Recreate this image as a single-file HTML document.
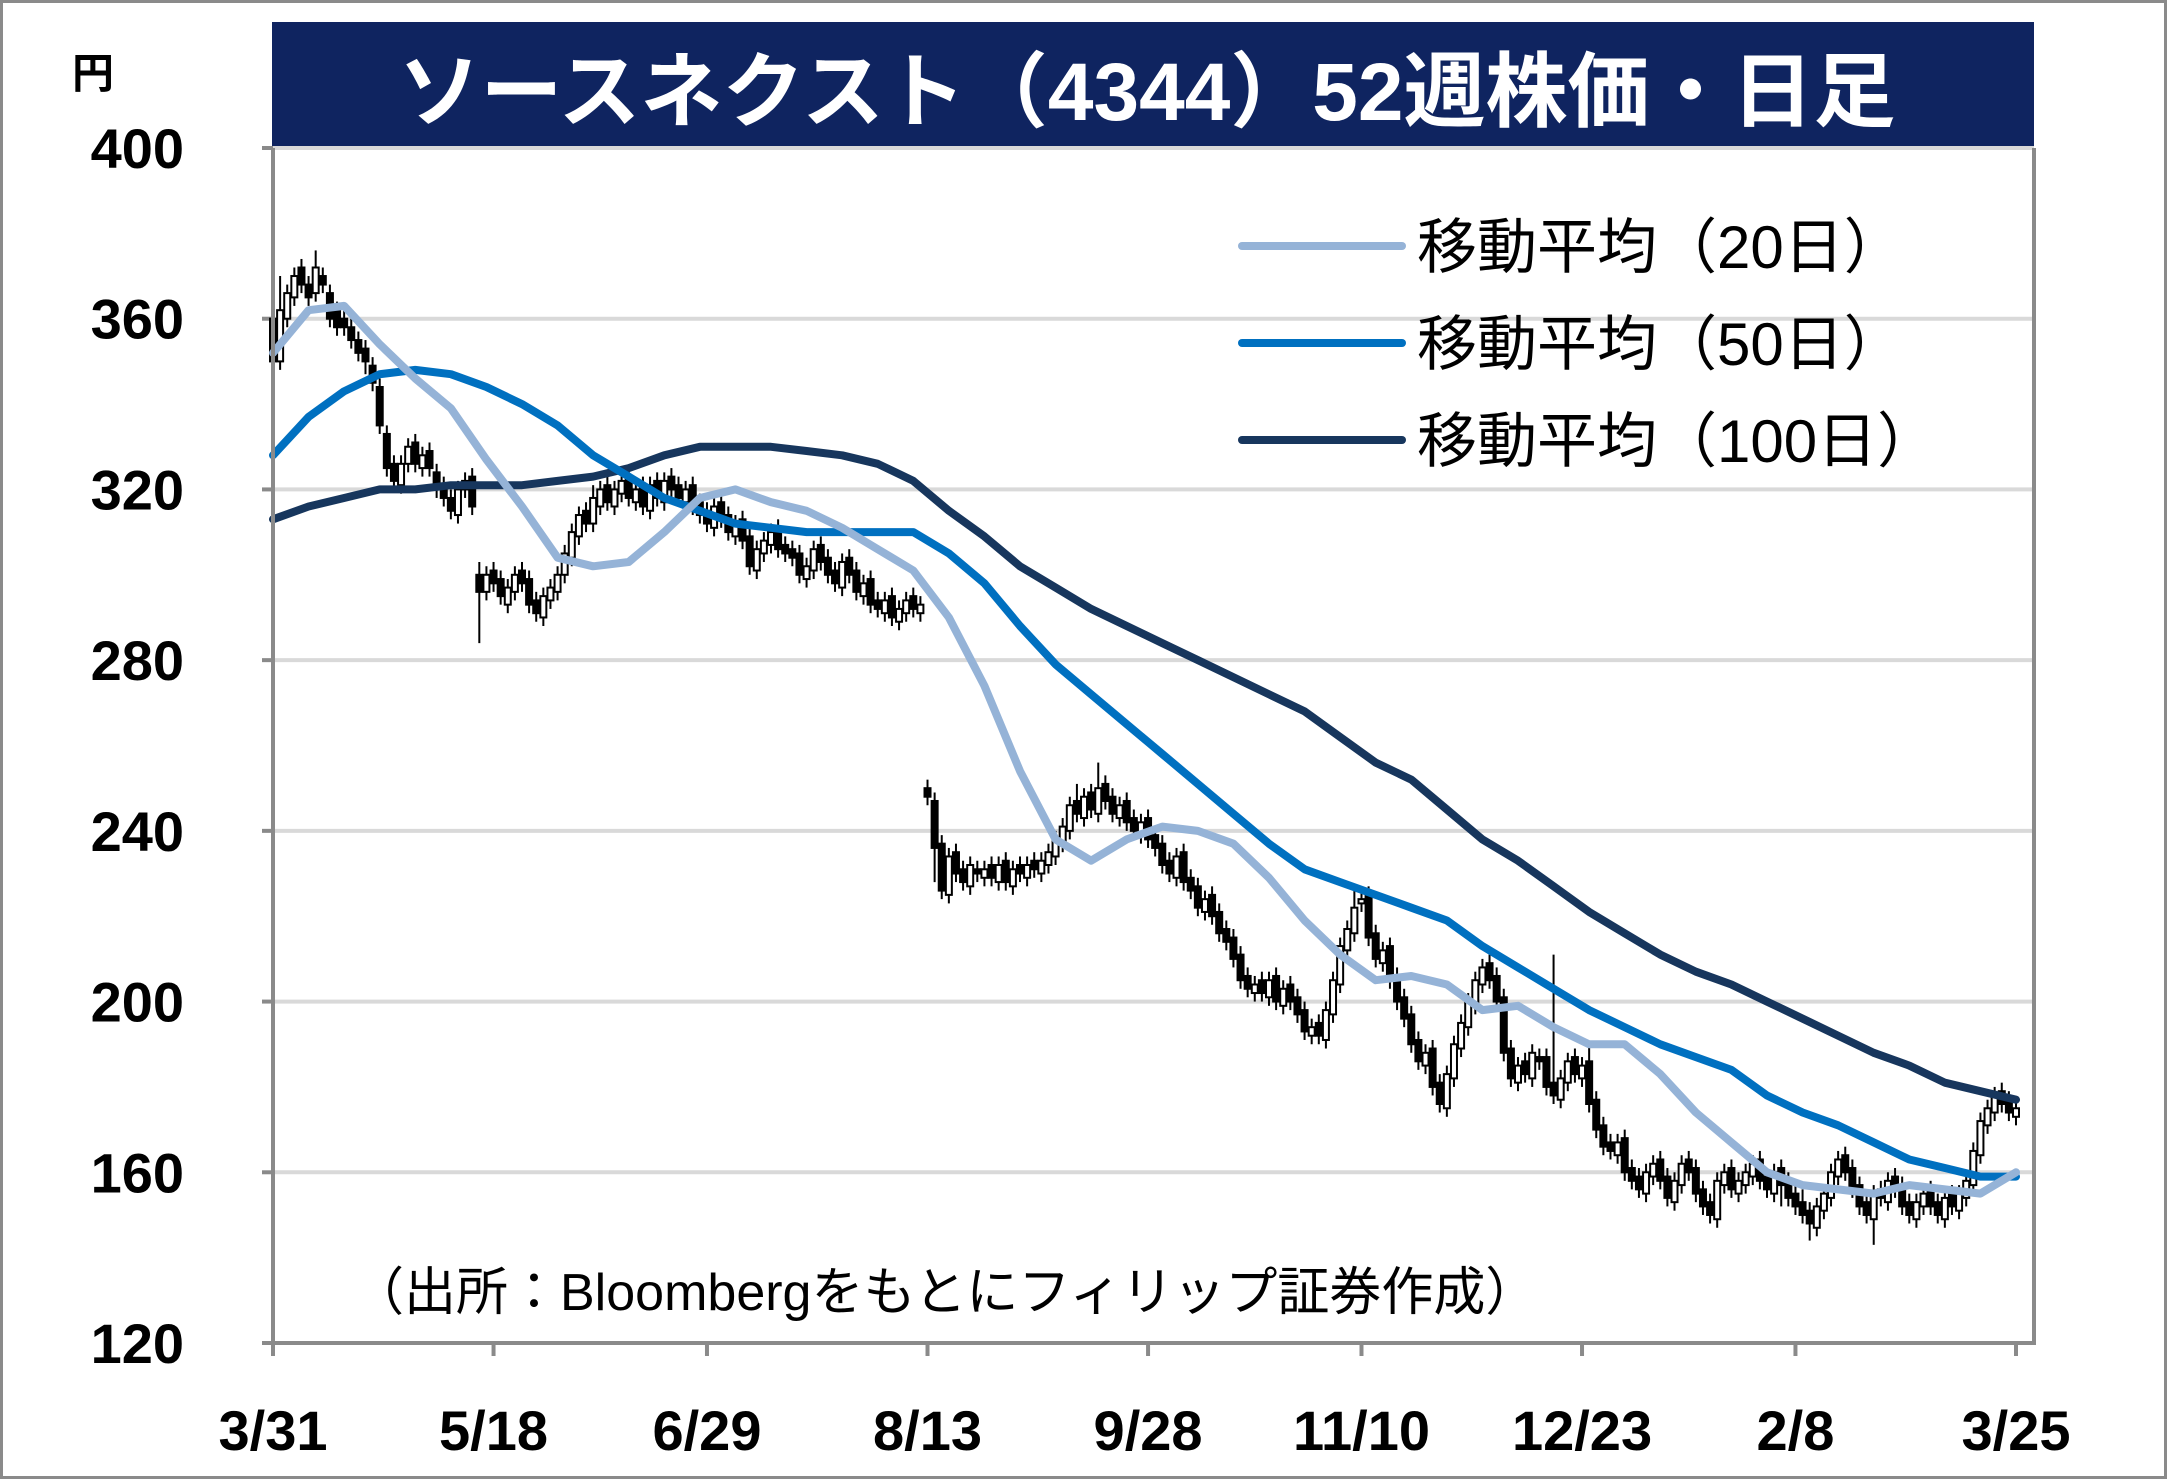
<!DOCTYPE html>
<html><head><meta charset="utf-8">
<style>
html,body{margin:0;padding:0;background:#fff;}
#wrap{position:relative;width:2167px;height:1479px;box-sizing:border-box;border:3px solid #8a8a8a;overflow:hidden;background:#fff;}
svg text{font-family:"Liberation Sans","Noto Sans CJK JP",sans-serif;}
</style></head>
<body>
<div id="wrap">
<svg id="chart" width="2161" height="1473" viewBox="3 3 2161 1473" xmlns="http://www.w3.org/2000/svg">
  <rect x="272" y="22" width="1762" height="126" fill="#0f2460"/>
  <text x="1147" y="120" text-anchor="middle" fill="#fff" font-size="82" font-weight="bold">ソースネクスト（4344）52週株価・日足</text>
  <text x="72" y="88" font-size="42" font-weight="bold" fill="#000">円</text>
  <g id="grid"></g>
  <g id="yticks"></g>
  <g id="xticks"></g>
  <g id="candles"></g>
  <g id="mas"></g>
  <line x1="273" y1="148" x2="273" y2="1345" stroke="#8a8a8a" stroke-width="4"/>
  <line x1="2034" y1="148" x2="2034" y2="1345" stroke="#8a8a8a" stroke-width="4"/>
  <line x1="271" y1="1343" x2="2036" y2="1343" stroke="#8a8a8a" stroke-width="4"/>
  <g>
    <g>
      <line x1="1242" y1="246" x2="1402" y2="246" stroke="#95b3d7" stroke-width="8" stroke-linecap="round"/>
      <text x="1417" y="268" font-size="60" fill="#000">移動平均（20日）</text>
    </g>
    <g>
      <line x1="1242" y1="343" x2="1402" y2="343" stroke="#0070c0" stroke-width="8" stroke-linecap="round"/>
      <text x="1417" y="365" font-size="60" fill="#000">移動平均（50日）</text>
    </g>
    <g>
      <line x1="1242" y1="440" x2="1402" y2="440" stroke="#17365d" stroke-width="8" stroke-linecap="round"/>
      <text x="1417" y="462" font-size="60" fill="#000">移動平均（100日）</text>
    </g>
  </g>
  <text x="352" y="1310" font-size="52" fill="#000">（出所：Bloombergをもとにフィリップ証券作成）</text>
</svg>
</div>
<script>
const yTicks = [120,160,200,240,280,320,360,400];
const xLabels = ["3/31","5/18","6/29","8/13","9/28","11/10","12/23","2/8","3/25"];
const xLabelDays = [0,31,61,92,123,153,184,214,245];
const closes = [350,362,366,370,368,365,372,368,360,358,
358,355,352,350,345,335,325,322,326,330,
326,328,325,320,318,315,320,322,316,296,
300,298,295,297,300,298,293,291,295,297,
300,305,310,314,312,318,320,317,320,322,
318,320,316,321,318,322,320,318,320,316,
314,312,316,313,310,312,308,302,306,308,
310,306,305,304,300,302,306,303,300,298,
303,300,296,298,293,292,294,290,292,294,
292,293,248,236,226,234,230,228,232,230,
231,229,232,228,231,230,232,231,233,235,
238,241,246,244,248,245,250,247,244,246,
242,240,242,238,236,232,230,234,228,226,
222,224,220,216,214,210,205,203,204,202,
205,200,203,200,197,193,194,192,198,205,
213,217,222,224,215,210,212,205,200,196,
190,186,188,180,176,183,190,195,200,205,
208,205,200,188,182,185,183,188,186,180,
178,182,186,183,185,176,170,166,165,167,
160,158,156,160,162,158,154,158,162,160,
155,152,150,158,160,156,158,160,162,158,
156,160,157,154,152,150,148,152,155,160,
163,160,156,152,150,155,154,158,156,152,
150,153,155,152,150,154,152,155,158,165,
172,175,178,176,174,175];
const opens = [360,350,360,365,372,368,366,370,366,362,
360,358,355,353,349,344,333,326,321,326,
331,325,329,324,321,318,314,320,323,300,
296,301,299,293,296,301,299,294,290,294,
296,300,304,309,315,312,316,321,316,319,
323,317,321,315,322,317,323,321,317,321,
317,315,311,317,314,309,313,309,301,305,
307,311,307,306,305,299,301,307,304,301,
297,304,301,295,299,294,291,295,289,291,
295,291,250,247,237,225,235,231,227,231,
229,232,228,233,227,232,229,233,230,232,
234,237,240,247,243,249,244,251,248,243,
247,243,239,243,239,237,233,229,235,229,
227,221,225,221,217,215,211,206,202,205,
201,206,199,204,201,198,192,195,191,197,
204,212,216,223,225,216,209,213,206,201,
197,191,185,189,181,175,182,189,194,199,
204,209,206,201,189,181,186,182,187,187,
181,177,181,187,182,186,177,171,167,164,
168,161,159,155,159,163,159,153,157,163,
161,156,153,149,157,161,155,157,159,163,
159,155,161,158,155,153,151,147,151,154,
159,164,161,157,153,149,156,153,159,157,
153,149,152,156,153,149,155,151,154,157,
164,171,174,179,177,173];
const upperWickDefault = 2;
const lowerWickDefault = 2;
const upperWicks = {1:8,6:4,29:3,45:3,113:4,116:6,152:5,180:30,185:4,215:3};
const lowerWicks = {29:12,93:8,13:3,212:5,225:6,216:4};
const maDays = [0,5,10,15,20,25,30,35,40,45,50,55,60,65,70,75,80,85,90,95,100,105,110,115,120,125,130,135,140,145,150,155,160,165,170,175,180,185,190,195,200,205,210,215,220,225,230,235,240,245];
const ma20 = [352,362,363,354,346,339,327,316,304,302,303,310,318,320,317,315,311,306,301,290,274,254,238,233,238,241,240,237,229,219,211,205,206,204,198,199,194,190,190,183,174,167,160,157,156,155,157,156,155,160];
const ma50 = [328,337,343,347,348,347,344,340,335,328,323,318,315,312,311,310,310,310,310,305,298,288,279,272,265,258,251,244,237,231,228,225,222,219,213,208,203,198,194,190,187,184,178,174,171,167,163,161,159,159];
const ma100 = [313,316,318,320,320,321,321,321,322,323,325,328,330,330,330,329,328,326,322,315,309,302,297,292,288,284,280,276,272,268,262,256,252,245,238,233,227,221,216,211,207,204,200,196,192,188,185,181,179,177];

const NS = "http://www.w3.org/2000/svg";
const X0 = 273, X1 = 2016, LASTDAY = 245;
const Y0 = 148, Y1 = 1343, VMAX = 400, VMIN = 120;
function xScale(d){ return X0 + d * (X1 - X0) / LASTDAY; }
function yScale(v){ return Y0 + (VMAX - v) * (Y1 - Y0) / (VMAX - VMIN); }
function mk(tag, attrs, parent){ const e = document.createElementNS(NS, tag); for (const k in attrs) e.setAttribute(k, attrs[k]); parent.appendChild(e); return e; }

const grid = document.getElementById('grid');
const yg = document.getElementById('yticks');
yTicks.forEach(v => {
  const y = yScale(v);
  if (v !== VMIN) {
    const gl = mk('line', {x1: 273, x2: 2034, y1: y, y2: y, stroke: '#d9d9d9', 'stroke-width': 4}, grid);
    
    
  }
  const t = mk('line', {x1: 262, x2: 273, y1: y, y2: y, stroke: '#8a8a8a', 'stroke-width': 4}, yg);
  
  
  const lb = mk('text', {x: 184, y: y + 20, 'text-anchor': 'end', 'font-size': 56, 'font-weight': 'bold', fill: '#000'}, yg);
  lb.textContent = v;
  
  
});

const xg = document.getElementById('xticks');
xLabels.forEach((s, i) => {
  const x = xScale(xLabelDays[i]);
  const t = mk('line', {x1: x, x2: x, y1: 1343, y2: 1356, stroke: '#8a8a8a', 'stroke-width': 4}, xg);
  
  
  const lb = mk('text', {x: x, y: 1450, 'text-anchor': 'middle', 'font-size': 56, 'font-weight': 'bold', fill: '#000'}, xg);
  lb.textContent = s;
  
  
});

const cg = document.getElementById('candles');
closes.forEach((c, i) => {
  const o = opens[i];
  const hi = Math.max(o, c) + (upperWicks[i] !== undefined ? upperWicks[i] : upperWickDefault);
  const lo = Math.min(o, c) - (lowerWicks[i] !== undefined ? lowerWicks[i] : lowerWickDefault);
  const x = xScale(i);
  const g = mk('g', {}, cg);
  
  
  mk('line', {x1: x, x2: x, y1: yScale(hi), y2: yScale(lo), stroke: '#000', 'stroke-width': 2}, g);
  const top = yScale(Math.max(o, c)), bot = yScale(Math.min(o, c));
  mk('rect', {x: x - 3, y: top, width: 6, height: Math.max(bot - top, 1.5), fill: c >= o ? '#fff' : '#000', stroke: '#000', 'stroke-width': 2}, g);
});

const mg = document.getElementById('mas');
[[ma100, '#17365d', 'ma100-line'], [ma50, '#0070c0', 'ma50-line'], [ma20, '#95b3d7', 'ma20-line']].forEach(([arr, col, name]) => {
  const pts = arr.map((v, i) => xScale(maDays[i]).toFixed(1) + ',' + yScale(v).toFixed(1)).join(' ');
  const pl = mk('polyline', {points: pts, fill: 'none', stroke: col, 'stroke-width': 8, 'stroke-linejoin': 'round', 'stroke-linecap': 'round'}, mg);
  
  
});
</script>
</body></html>
